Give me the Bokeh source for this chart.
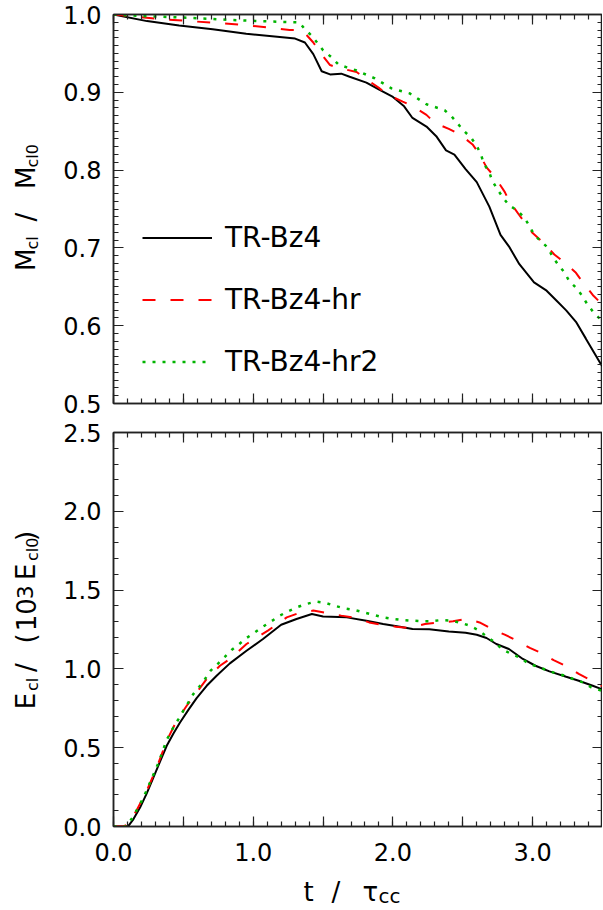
import math
from bokeh.plotting import figure
from bokeh.layouts import column, row
from bokeh.models import (SingleIntervalTicker, LinearAxis, CustomJSTickFormatter,
                          Legend, LegendItem, Range1d)
from bokeh.core.properties import value
from bokeh.embed import file_html
from bokeh.resources import INLINE

# ---------------- data ----------------
# Top panel: M_cl / M_cl0
t_m_bz4 = [0.0, 0.24, 0.47, 0.71, 0.95, 1.19, 1.30, 1.37, 1.43, 1.49, 1.55, 1.63, 1.69, 1.81,
           1.905, 2.00, 2.08, 2.14, 2.24, 2.31, 2.38, 2.44, 2.52, 2.60, 2.69, 2.77, 2.83, 2.905,
           3.01, 3.10, 3.17, 3.24, 3.31, 3.38, 3.49, 3.5]
m_bz4 = [1.000, 0.9915, 0.986, 0.981, 0.9754, 0.971, 0.969, 0.964, 0.949, 0.927, 0.923, 0.924,
         0.920, 0.9125, 0.903, 0.894, 0.882, 0.867, 0.856, 0.8436, 0.8254, 0.820, 0.8013, 0.7845,
         0.753, 0.7168, 0.702, 0.679, 0.6556, 0.645, 0.6323, 0.6197, 0.605, 0.5837, 0.550, 0.548]

t_m_hr = [0.0, 0.31, 0.51, 0.71, 0.92, 1.12, 1.26, 1.35, 1.43, 1.48, 1.55, 1.61, 1.74, 1.80,
          1.905, 1.96, 2.07, 2.14, 2.24, 2.30, 2.40, 2.48, 2.57, 2.62, 2.67, 2.73, 2.80, 2.83,
          2.905, 3.00, 3.08, 3.155, 3.23, 3.31, 3.36, 3.43, 3.5]
m_hr = [1.0, 0.9944, 0.992, 0.9894, 0.9868, 0.983, 0.980, 0.980, 0.964, 0.951, 0.935, 0.9315,
        0.926, 0.918, 0.905, 0.897, 0.888, 0.8825, 0.871, 0.8606, 0.853, 0.8457, 0.833, 0.8205,
        0.8035, 0.791, 0.772, 0.761, 0.742, 0.719, 0.7063, 0.6915, 0.681, 0.668, 0.6556, 0.6395,
        0.627]

t_m_hr2 = [0.0, 0.21, 0.42, 0.63, 0.845, 1.045, 1.19, 1.33, 1.37, 1.42, 1.50, 1.56, 1.61, 1.67,
           1.74, 1.87, 1.99, 2.12, 2.24, 2.37, 2.42, 2.46, 2.51, 2.56, 2.60, 2.63, 2.65, 2.69,
           2.71, 2.75, 2.79, 2.83, 2.89, 2.94, 2.98, 3.01, 3.06, 3.11, 3.14, 3.18, 3.23, 3.26,
           3.31, 3.35, 3.39, 3.43, 3.48, 3.5]
m_hr2 = [1.0, 0.998, 0.9966, 0.995, 0.993, 0.9915, 0.9906, 0.990, 0.981, 0.9725, 0.954, 0.945,
         0.9357, 0.932, 0.928, 0.918, 0.905, 0.8986, 0.8846, 0.877, 0.869, 0.8605, 0.850, 0.8415,
         0.831, 0.820, 0.8086, 0.797, 0.7865, 0.7747, 0.764, 0.755, 0.748, 0.739, 0.7274, 0.717,
         0.7084, 0.700, 0.6894, 0.679, 0.668, 0.6577, 0.649, 0.6395, 0.628, 0.6184, 0.609, 0.606]

# Bottom panel: E_cl / (10^3 E_cl0)
t_e_bz4 = [0.0, 0.07, 0.107, 0.143, 0.19, 0.238, 0.286, 0.333, 0.381, 0.429, 0.476, 0.536,
           0.595, 0.667, 0.738, 0.833, 0.952, 1.07, 1.20, 1.31, 1.42, 1.50, 1.67, 1.81, 1.93,
           2.05, 2.14, 2.26, 2.40, 2.52, 2.60, 2.67, 2.74, 2.83, 2.93, 3.02, 3.12, 3.24, 3.33,
           3.43, 3.5]
e_bz4 = [0.0, 0.0, 0.004, 0.047, 0.12, 0.21, 0.311, 0.411, 0.512, 0.59, 0.66, 0.74, 0.815,
         0.893, 0.957, 1.035, 1.115, 1.19, 1.28, 1.317, 1.348, 1.333, 1.327, 1.306, 1.285, 1.268,
         1.253, 1.251, 1.238, 1.23, 1.217, 1.196, 1.158, 1.126, 1.063, 1.02, 0.984, 0.95, 0.925,
         0.893, 0.87]

t_e_hr = [0.0, 0.07, 0.107, 0.164, 0.238, 0.31, 0.381, 0.452, 0.524, 0.595, 0.667, 0.762,
          0.833, 0.952, 1.105, 1.19, 1.24, 1.33, 1.43, 1.52, 1.63, 1.73, 1.83, 1.92, 2.02, 2.12,
          2.23, 2.32, 2.43, 2.52, 2.62, 2.71, 2.80, 2.89, 2.98, 3.07, 3.15, 3.25, 3.33, 3.43, 3.5]
e_hr = [0.0, 0.0, 0.015, 0.10, 0.227, 0.375, 0.544, 0.671, 0.766, 0.851, 0.936, 1.02, 1.063,
        1.158, 1.243, 1.295, 1.327, 1.355, 1.37, 1.355, 1.338, 1.324, 1.295, 1.28, 1.268, 1.26,
        1.285, 1.293, 1.302, 1.317, 1.295, 1.253, 1.217, 1.179, 1.133, 1.098, 1.056, 1.014,
        0.968, 0.921, 0.89]

t_e_hr2 = [0.0, 0.09, 0.129, 0.164, 0.20, 0.238, 0.286, 0.32, 0.381, 0.429, 0.464, 0.50, 0.536,
           0.571, 0.614, 0.655, 0.695, 0.75, 0.797, 0.845, 0.90, 0.952, 1.012, 1.07, 1.13, 1.19,
           1.25, 1.31, 1.38, 1.45, 1.52, 1.58, 1.655, 1.726, 1.79, 1.857, 1.93, 2.0, 2.07, 2.14,
           2.21, 2.27, 2.345, 2.42, 2.49, 2.55, 2.61, 2.67, 2.73, 2.78, 2.84, 2.905, 2.96, 3.03,
           3.10, 3.16, 3.23, 3.29, 3.36, 3.42, 3.5]
e_hr2 = [0.0, 0.0, 0.047, 0.10, 0.159, 0.23, 0.33, 0.40, 0.55, 0.63, 0.68, 0.735, 0.787, 0.84,
         0.887, 0.936, 0.989, 1.035, 1.077, 1.12, 1.158, 1.196, 1.232, 1.268, 1.302, 1.338, 1.365,
         1.39, 1.412, 1.427, 1.418, 1.401, 1.384, 1.374, 1.359, 1.344, 1.327, 1.317, 1.31, 1.306,
         1.302, 1.302, 1.31, 1.306, 1.291, 1.274, 1.247, 1.206, 1.168, 1.126, 1.098, 1.073, 1.041,
         1.014, 0.993, 0.974, 0.957, 0.936, 0.914, 0.883, 0.86]

series_names = ["TR-Bz4", "TR-Bz4-hr", "TR-Bz4-hr2"]

# axis-title pieces (text, font px, start position along the text line, baseline shift)
ylab_top = [("M", 26, 275, 0), ("cl", 16, 252, 4), ("/", 26, 222, 0), ("M", 26, 187, 0),
            ("cl0", 16, 164, 4)]
ylab_bot = [("E", 26, 736, 0), ("cl", 16, 715, 4), ("/", 26, 693, 0), ("(", 26, 660, 0),
            ("10", 26, 646, 0), ("3", 22, 609, -2), ("E", 26, 587, 0), ("cl0", 16, 565, 4),
            (")", 26, 542, 0)]
xlab = [("t", 26, 303, 0), ("/", 26, 331, 0), ("\u03c4", 26, 362, 0), ("cc", 20, 378, 2)]

# ---------------- styling ----------------
FONT = "DejaVu Sans"
MID = 0.346      # distance (em) from the text box middle down to the baseline
AX = "#222222"
COLORS = ["#000000", "#ff0000", "#00b400"]
DASHES = ["solid", "13 15", "3 7"]
WIDTHS = [2.0, 2.0, 2.5]

LW = 60          # width of the y-title strip
MW = 542         # main figure width
H1, H2, H3 = 417, 454, 37


def blank_fig(w, h):
    f = figure(width=w, height=h, x_range=Range1d(0, w), y_range=Range1d(0, h),
               output_backend="svg", toolbar_location=None, min_border=0, title=None,
               x_axis_type=None, y_axis_type=None)
    f.outline_line_color = None
    f.grid.visible = False
    return f


def vtitle(f, pieces, top_page, h, base_x):
    for text, size, start, shift in pieces:
        f.text(x=[base_x + shift - MID * size], y=[top_page + h - start], text=[text],
               angle=math.pi / 2, text_font=value(FONT), text_font_size=value(f"{size}px"),
               text_align="left", text_baseline="middle", text_color="black")


def htitle(f, pieces, top_page, h, base_y):
    for text, size, start, shift in pieces:
        f.text(x=[start], y=[top_page + h - (base_y + shift) + MID * size], text=[text],
               text_font=value(FONT), text_font_size=value(f"{size}px"), text_align="left",
               text_baseline="middle", text_color="black")


def style_axis(ax, major, minor, labels=True):
    ax.ticker = SingleIntervalTicker(interval=major, num_minor_ticks=minor)
    ax.major_tick_in = 10
    ax.major_tick_out = 0
    ax.minor_tick_in = 5
    ax.minor_tick_out = 0
    ax.axis_line_color = AX
    ax.axis_line_width = 1.5
    ax.major_tick_line_color = AX
    ax.minor_tick_line_color = AX
    ax.major_tick_line_width = 1.2
    ax.minor_tick_line_width = 1.2
    ax.axis_label = None
    if labels:
        ax.major_label_text_font = FONT
        ax.major_label_text_font_size = "24px"
        ax.major_label_text_color = "black"
    else:
        ax.formatter = CustomJSTickFormatter(code="return '';")
        ax.major_label_text_font_size = "0px"
        ax.major_label_standoff = 0


def base_fig(height, y0, y1, top, bottom):
    p = figure(width=MW, height=height, x_range=Range1d(0, 3.5), y_range=Range1d(y0, y1),
               output_backend="svg", toolbar_location=None, min_border_left=113 - LW,
               min_border_right=0, min_border_top=top, min_border_bottom=bottom, title=None)
    p.grid.visible = False
    p.outline_line_color = AX
    p.outline_line_width = 1.5
    p.background_fill_color = "white"
    p.border_fill_color = "white"
    return p


int_fmt = CustomJSTickFormatter(code="return (Math.abs(tick - Math.round(tick)) < 1e-6) ? tick.toFixed(1) : '';")
one_fmt = CustomJSTickFormatter(code="return tick.toFixed(1);")

# ---------------- top panel ----------------
p1 = base_fig(H1, 0.5, 1.0, 14, 14)
style_axis(p1.xaxis[0], 0.5, 5, labels=False)
style_axis(p1.yaxis[0], 0.1, 10, labels=True)
p1.yaxis[0].formatter = one_fmt
p1.yaxis[0].major_label_standoff = 12
ax_t = LinearAxis(); style_axis(ax_t, 0.5, 5, labels=False); p1.add_layout(ax_t, "above")
ax_r = LinearAxis(); style_axis(ax_r, 0.1, 10, labels=False); p1.add_layout(ax_r, "right")

rs = []
for tt, vv, c, d, w in zip([t_m_bz4, t_m_hr, t_m_hr2], [m_bz4, m_hr, m_hr2], COLORS, DASHES, WIDTHS):
    rs.append(p1.line(tt, vv, line_color=c, line_dash=d, line_width=w))

legend = Legend(items=[LegendItem(label=n, renderers=[r]) for n, r in zip(series_names, rs)],
                location=(29, 25), glyph_width=70, glyph_height=33, label_height=33, spacing=29,
                padding=0, margin=0, label_standoff=13, border_line_color=None,
                background_fill_alpha=0, label_text_font=FONT, label_text_font_size="28px",
                label_text_color="black")
p1.add_layout(legend)

# ---------------- bottom panel ----------------
p2 = base_fig(H2, 0.0, 2.5, 15, 45)
style_axis(p2.xaxis[0], 0.5, 5, labels=True)
p2.xaxis[0].formatter = int_fmt
p2.xaxis[0].major_label_standoff = 16
style_axis(p2.yaxis[0], 0.5, 5, labels=True)
p2.yaxis[0].formatter = one_fmt
p2.yaxis[0].major_label_standoff = 12
ax_t2 = LinearAxis(); style_axis(ax_t2, 0.5, 5, labels=False); p2.add_layout(ax_t2, "above")
ax_r2 = LinearAxis(); style_axis(ax_r2, 0.5, 5, labels=False); p2.add_layout(ax_r2, "right")

for tt, vv, c, d, w in zip([t_e_bz4, t_e_hr, t_e_hr2], [e_bz4, e_hr, e_hr2], COLORS, DASHES, WIDTHS):
    p2.line(tt, vv, line_color=c, line_dash=d, line_width=w)

# ---------------- axis titles ----------------
yl1 = blank_fig(LW, H1)
vtitle(yl1, ylab_top, 0, H1, 34)
yl2 = blank_fig(LW, H2)
vtitle(yl2, ylab_bot, H1, H2, 34)
xl = blank_fig(LW + MW, H3)
htitle(xl, xlab, H1 + H2, H3, 900)

layout = column(row(yl1, p1), row(yl2, p2), xl)
open("out.html", "w").write(file_html(layout, INLINE))
